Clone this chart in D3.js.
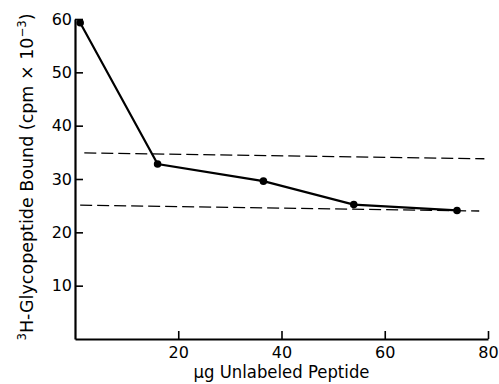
<!DOCTYPE html>
<html>
<head>
<meta charset="utf-8">
<script src="https://cdn.jsdelivr.net/npm/d3@7"></script>
<style>
	body { margin: 0; background: #fff; }
	text { font-family: "DejaVu Sans", sans-serif; fill: #000; }
</style>
</head>
<body>
<svg id="chart" width="499" height="384"></svg>
<script>
// data
var peptideUg = [1, 16, 36.5, 54, 74];
var boundCpm = [59.3, 32.8, 29.6, 25.2, 24.1];
// dashed reference lines: [x, y] end points
var upperDashed = [[1.8, 34.9], [79.3, 33.8]];
var lowerDashed = [[1, 25.1], [78.3, 24.0]];
var xTicks = [20, 40, 60, 80];
var yTicks = [10, 20, 30, 40, 50, 60];

var svgWidth = 499;
var svgHeight = 384;
var margin = { left: 75, right: 11, top: 19, bottom: 45 };

var svg = d3.select("#chart");

var xScale = d3.scaleLinear()
	.domain([0, 80])
	.range([margin.left, svgWidth - margin.right]);
var yScale = d3.scaleLinear()
	.domain([0, 60])
	.range([svgHeight - margin.bottom, margin.top]);

var points = peptideUg.map(function (d, i) { return { x: d, y: boundCpm[i] } });

//=================== AXES ====================================
var xAxis = d3.axisBottom(xScale)
	.tickValues(xTicks)
	.tickSizeInner(-8)
	.tickSizeOuter(0)
	.tickPadding(8);

var gx = svg.append("g")
	.attr("transform", "translate(0," + yScale(0) + ")")
	.call(xAxis);

var yAxis = d3.axisLeft(yScale)
	.tickValues(yTicks)
	.tickSizeInner(-8)
	.tickSizeOuter(0)
	.tickPadding(3);

var gy = svg.append("g")
	.attr("transform", "translate(" + xScale(0) + ",0)")
	.call(yAxis);

[gx, gy].forEach(function (g) {
	g.select(".domain").attr("stroke", "#000").attr("stroke-width", 2.2);
	g.selectAll(".tick line").attr("stroke", "#000").attr("stroke-width", 1.6);
	g.selectAll(".tick text")
		.attr("fill", "#000")
		.style("font-size", "16px")
		.style("font-family", "DejaVu Sans, sans-serif");
});

//=================== DASHED LINES ====================================
var lineGen = d3.line()
	.x(function (d) { return xScale(d[0]) })
	.y(function (d) { return yScale(d[1]) });

svg.selectAll("path.dashed")
	.data([upperDashed, lowerDashed])
	.enter()
	.append("path")
	.classed("dashed", true)
	.attr("d", lineGen)
	.attr("fill", "none")
	.attr("stroke", "#000")
	.attr("stroke-width", 1.3)
	.attr("stroke-dasharray", "12,5");

//=================== DATA LINE + DOTS ====================================
svg.append("path")
	.datum(points)
	.attr("d", d3.line()
		.x(function (d) { return xScale(d.x) })
		.y(function (d) { return yScale(d.y) }))
	.attr("fill", "none")
	.attr("stroke", "#000")
	.attr("stroke-width", 2.2);

svg.selectAll("circle")
	.data(points)
	.enter()
	.append("circle")
	.attr("cx", function (d) { return xScale(d.x) })
	.attr("cy", function (d) { return yScale(d.y) })
	.attr("r", 3.8)
	.attr("fill", "#000");

//=================== LABELS ====================================
svg.append("text")
	.attr("x", xScale(40))
	.attr("y", 378)
	.attr("text-anchor", "middle")
	.style("font-size", "17px")
	.attr("textLength", 176)
	.attr("lengthAdjust", "spacingAndGlyphs")
	.text("\u03bcg Unlabeled Peptide");

var yLab = svg.append("text")
	.attr("transform", "translate(33,177) rotate(-90)")
	.attr("text-anchor", "middle")
	.style("font-size", "18px")
	.attr("textLength", 327)
	.attr("lengthAdjust", "spacingAndGlyphs");

yLab.append("tspan").attr("dy", "-7").style("font-size", "12px").text("3");
yLab.append("tspan").attr("dy", "7").text("H-Glycopeptide Bound (cpm \u00d7 10");
yLab.append("tspan").attr("dy", "-7").style("font-size", "12px").text("\u22123");
yLab.append("tspan").attr("dy", "7").text(")");
</script>
</body>
</html>
